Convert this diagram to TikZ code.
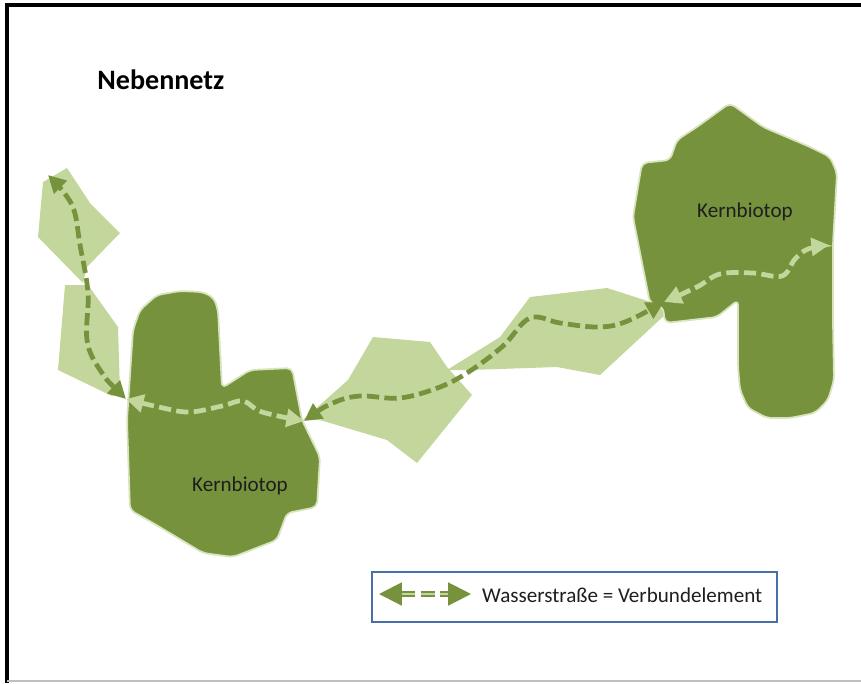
\documentclass[tikz,border=0pt]{standalone}
\usepackage{fontspec}
\setmainfont{Carlito}
\usetikzlibrary{positioning,arrows.meta}
\definecolor{kern}{HTML}{76923C}
\definecolor{korridor}{HTML}{C3D69B}
\definecolor{rand}{HTML}{D7E4BD}
\definecolor{legendblue}{HTML}{4A6FA5}
\definecolor{schrift}{HTML}{1E1E1E}

\begin{document}
\begin{tikzpicture}[x=0.02cm, y=-0.02cm,
    kernbiotop/.style={fill=kern, draw=rand, line width=1pt, rounded corners=3pt},
    trittstein/.style={fill=korridor, draw=none},
    weg/.style={line width=2.7pt, dash pattern=on 7pt off 3pt,
                {Triangle[length=10pt,width=10pt]}-{Triangle[length=10pt,width=10pt]}},
    wegdunkel/.style={weg, draw=kern},
    weghell/.style={weg, draw=korridor},
    label/.style={font=\fontsize{12}{14}\selectfont, text=schrift},
  ]
  \useasboundingbox (0,0) rectangle (861,683);

  % Rahmen
  \draw[black, line width=2pt] (7,683) -- (7,5) -- (861,5);
  \draw[black!25, line width=1pt] (7,681) -- (861,681);

  \node[font=\bfseries\fontsize{16}{19}\selectfont, anchor=west, inner sep=0pt]
    (titel) at (97,80) {Nebennetz};

  % Trittsteine
  \fill[trittstein] (43,182) -- (67,168) -- (90,203) -- (120,233) -- (87,267)
    -- (83,283) -- (38,237) -- cycle;
  \fill[trittstein] (65,285) -- (88,285) -- (118,327) -- (120,392) -- (112,396)
    -- (58,370) -- cycle;
  \fill[trittstein] (373,337) -- (430,342) -- (447,367) -- (472,395) -- (417,463)
    -- (387,440) -- (320,420) -- (303,420) -- (348,380) -- cycle;
  \fill[trittstein] (530,297) -- (607,288) -- (660,305) -- (667,313) -- (600,375)
    -- (557,367) -- (470,370) -- (447,370) -- (500,337) -- cycle;

  % Kernbiotope
  \draw[kernbiotop] (133,330) -- (140,310) -- (157,295) -- (180,291) -- (203,292)
    -- (214,298) -- (218,310) -- (222,388) -- (250,370) -- (292,368) -- (302,420)
    -- (320,457) -- (317,507) -- (287,513) -- (277,540) -- (233,557) -- (203,553)
    -- (153,523) -- (130,510) -- (127,420) -- cycle;
  \draw[kernbiotop] (730,103) -- (763,127) -- (810,147) -- (830,157) -- (837,173)
    -- (833,243) -- (833,323) -- (834,380) -- (828,400) -- (815,413) -- (790,418)
    -- (767,418) -- (748,408) -- (740,390) -- (738,367) -- (738,300) -- (717,317)
    -- (665,323) -- (663,307) -- (650,303) -- (633,217) -- (642,163) -- (670,160)
    -- (677,140) -- (697,127) -- cycle;

  \node[label] (kernL) at (240,486) {Kernbiotop};
  \node[label] (kernR) at (745,212) {Kernbiotop};

  % Verbundpunkte
  \coordinate (pOben)   at (48,175);
  \coordinate (pLinks)  at (126,399);
  \coordinate (pMitte)  at (304,421);
  \coordinate (pRechts) at (664,302);
  \coordinate (pRand)   at (829,245);

  % Wasserstrassen
  \draw[wegdunkel] plot[smooth, tension=0.6] coordinates
    {(pLinks) (100,370) (87,340) (88,293) (80,245) (72,205) (pOben)};
  \draw[weghell] plot[smooth, tension=0.6] coordinates
    {(pLinks) (163,408) (190,412) (222,406) (243,401) (262,412) (pMitte)};
  \draw[wegdunkel] plot[smooth, tension=0.6] coordinates
    {(pMitte) (333,403) (360,396) (400,398) (440,387) (470,371) (503,346)
     (530,318) (560,323) (597,327) (625,322) (pRechts)};
  \draw[weghell] plot[smooth, tension=0.6] coordinates
    {(pRechts) (697,287) (720,274) (753,273) (782,276) (795,259) (808,249) (pRand)};

  % Legende
  \node[draw=legendblue, line width=1.3pt, minimum width=8.1cm, minimum height=1cm,
        inner sep=0pt] (legende) at (574.5,597) {};
  \node[label, anchor=west] (legtext) at (476,595)
    {Wasserstraße = Verbundelement};
  \coordinate (lgA) at (379,594);
  \coordinate (lgB) at (471,594);
  \draw[kern, line width=1.2pt, double=korridor, double distance=1.4pt,
        dash pattern=on 8pt off 3pt,
        {Triangle[length=13pt,width=13pt]}-{Triangle[length=13pt,width=13pt]}] (lgA) -- (lgB);
\end{tikzpicture}
\end{document}
